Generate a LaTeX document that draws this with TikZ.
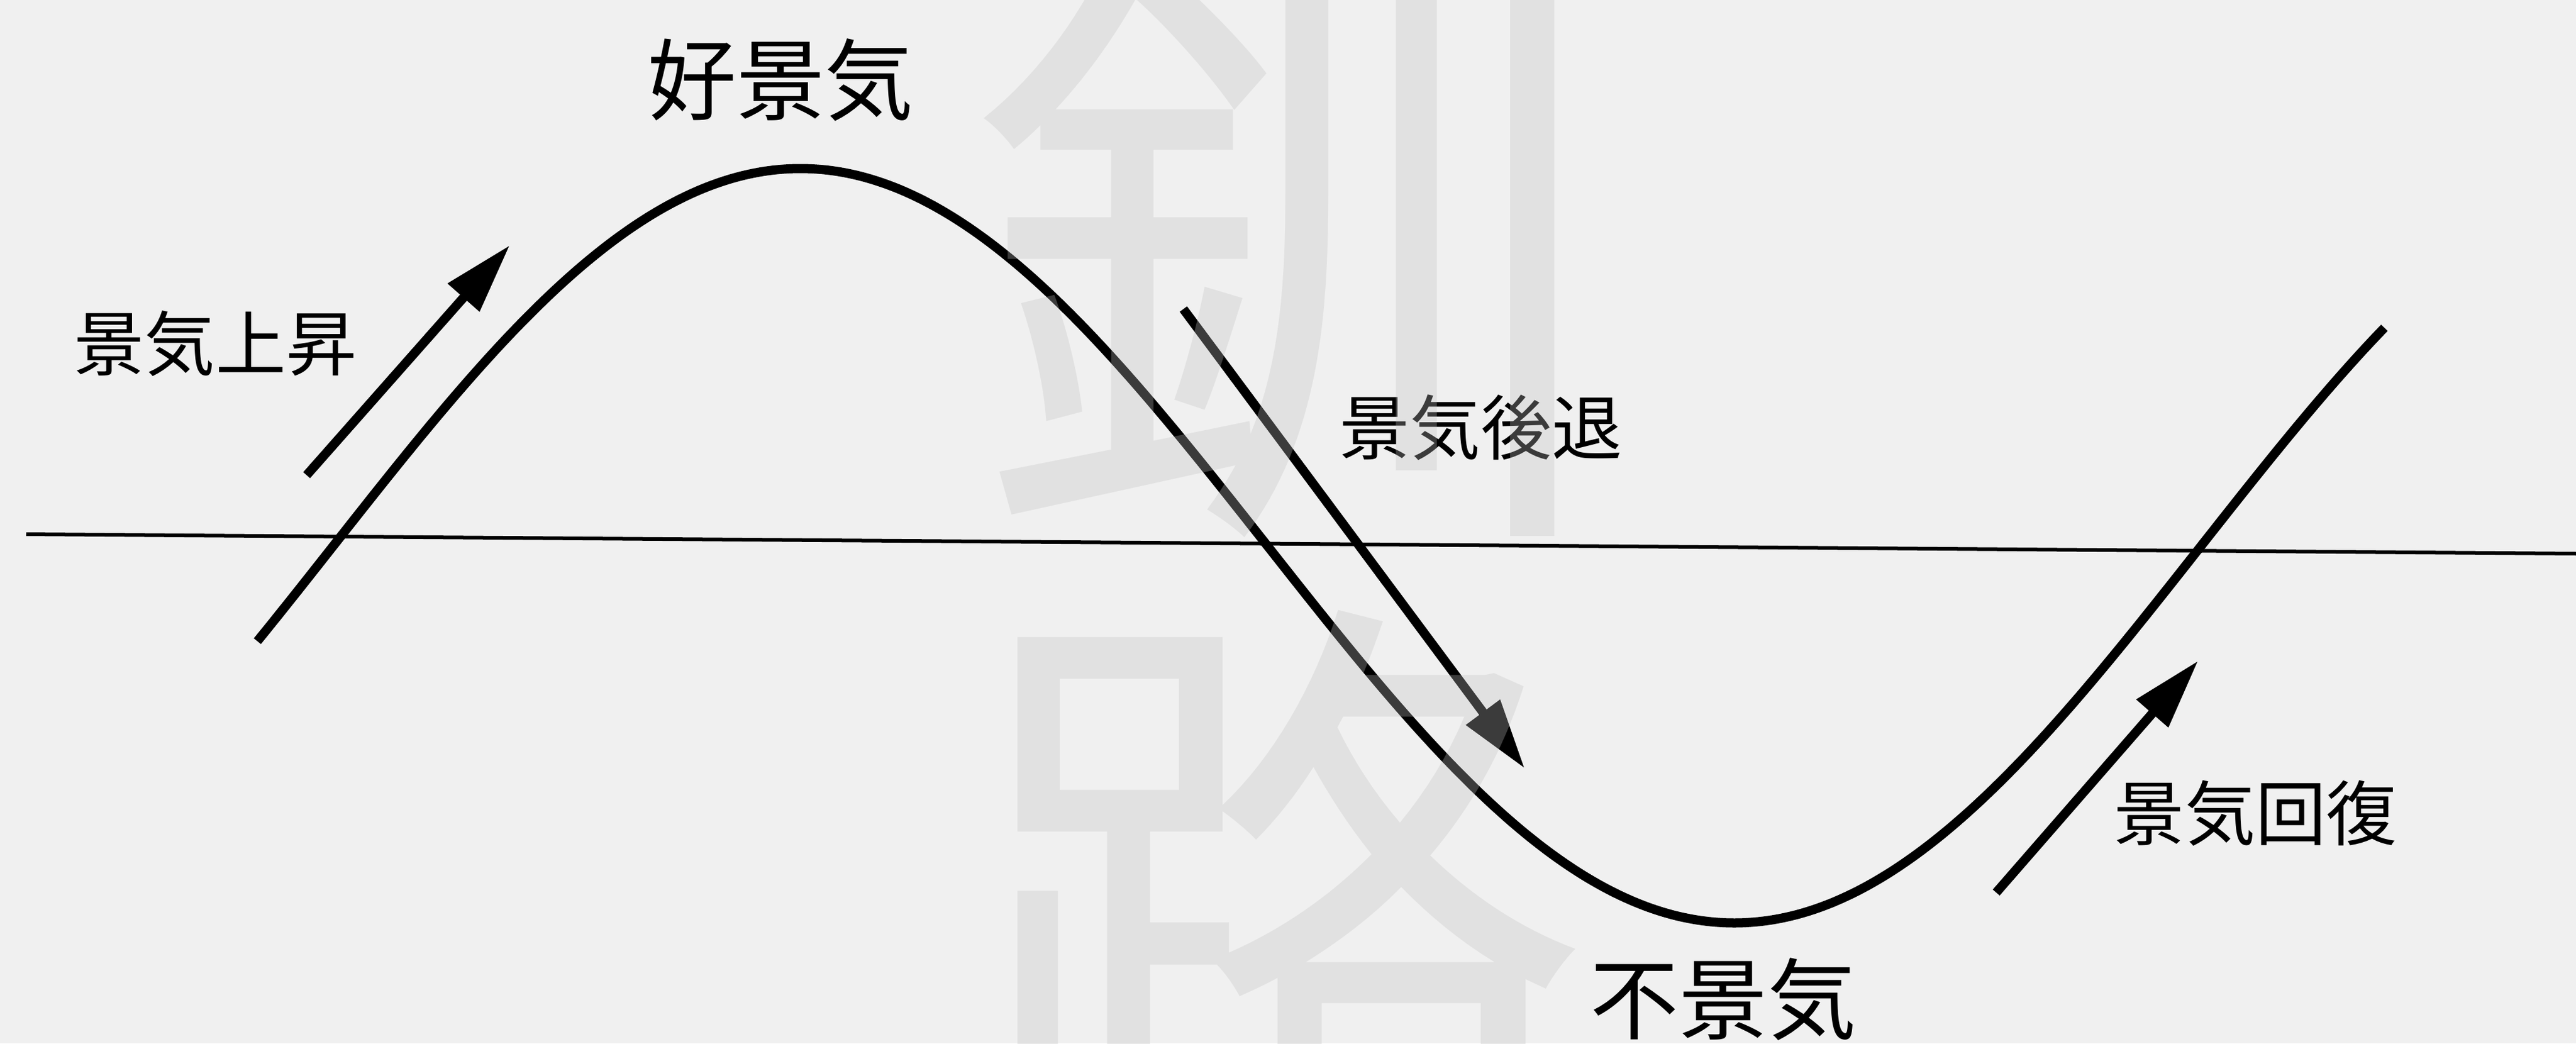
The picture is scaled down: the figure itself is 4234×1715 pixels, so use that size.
\documentclass[tikz,border=0pt]{standalone}
\usepackage{fontspec}
\newfontfamily\jp{Noto Sans CJK JP}
\usetikzlibrary{arrows.meta}
\definecolor{bg}{HTML}{F0F0F0}
\definecolor{wmgray}{HTML}{C0C0C0}
\tikzset{
  lab/.style={font=\jp\fontsize{33}{40}\selectfont, inner sep=0pt},
  biglab/.style={font=\jp\fontsize{41.5}{50}\selectfont, inner sep=0pt},
  wm/.style={font=\jp\fontsize{295}{310}\selectfont, text=wmgray, text opacity=0.31, inner sep=0pt},
  axisline/.style={line width=0.06cm, black},
  wave/.style={line width=0.15cm, black},
  arr/.style={line width=0.15cm, black, -{Triangle[length=1.15cm,width=0.66cm]}}
}
\begin{document}
\begin{tikzpicture}[x=0.01cm,y=-0.01cm]
\useasboundingbox[fill=bg] (0,0) rectangle (4234,1715);
% axis
\coordinate (axL) at (43,878);
\coordinate (axR) at (4234,910);
\draw[axisline] (axL) -- (axR);
% wave
\draw[wave] plot[domain=423:3919, samples=240, smooth] (\x, {897-620*sin((\x-548)*0.1172638)});
% arrows
\coordinate (upT) at (504,781);
\coordinate (upH) at (838,403);
\coordinate (dnT) at (1945,508);
\coordinate (dnH) at (2506,1263);
\coordinate (rcT) at (3281,1467);
\coordinate (rcH) at (3613,1086);
\draw[arr] (upT) -- (upH);
\draw[arr] (dnT) -- (dnH);
\draw[arr] (rcT) -- (rcH);
% labels
\node[biglab] (boom) at (1283,131) {好景気};
\node[biglab] (slump) at (2832,1642) {不景気};
\node[lab] (rise) at (354,565) {景気上昇};
\node[lab] (fall) at (2434,703) {景気後退};
\node[lab] (recov) at (3707,1337) {景気回復};
% watermark on top
\begin{scope}
  \clip (0,0) rectangle (4234,1715);
  \node[wm] (wm1) at (2113,405) {釧};
  \node[wm] (wm2) at (2099,1480) {路};
\end{scope}
\end{tikzpicture}
\end{document}
